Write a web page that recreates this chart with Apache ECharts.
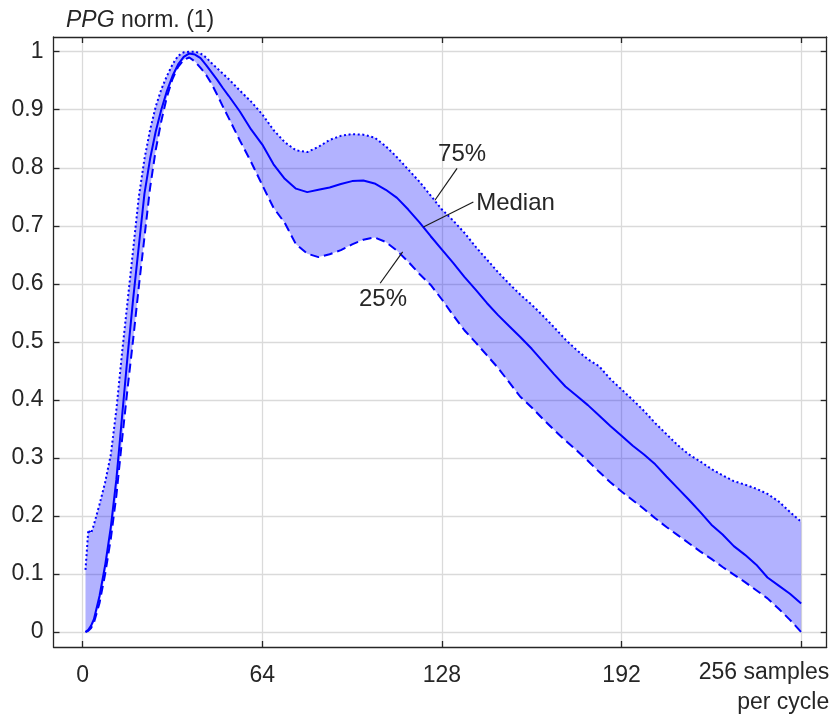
<!DOCTYPE html>
<html>
<head>
<meta charset="utf-8">
<script src="https://cdn.jsdelivr.net/npm/echarts@6/dist/echarts.min.js"></script>
<style>
html,body{margin:0;padding:0;background:#fff;}
#chart{width:835px;height:716px;}
</style>
</head>
<body>
<div id="chart"></div>
<script>
// samples per cycle
const xs = [1,2,3,4,6,8,10,12,14,16,18,20,22,24,26,28,30,32,34,36,38,40,42,44,46,48,50,52,
  56,60,64,68,72,76,80,84,88,92,96,100,104,108,112,116,120,124,128,132,136,140,144,148,152,156,
  160,164,168,172,176,180,184,188,192,196,200,204,208,212,216,220,224,228,232,236,240,244,248,252,256];
// median
const median = [0,0.004,0.011,0.022,0.062,0.115,0.18,0.263,0.37,0.476,0.575,0.665,0.755,0.815,0.862,0.9,0.932,0.958,0.978,0.991,0.997,0.995,0.989,0.977,0.964,0.951,0.937,0.924,
  0.897,0.866,0.84,0.806,0.781,0.764,0.758,0.762,0.766,0.772,0.777,0.778,0.773,0.762,0.748,0.728,0.706,0.682,0.659,0.636,0.612,0.59,0.567,0.546,0.527,0.508,
  0.488,0.466,0.444,0.423,0.407,0.391,0.373,0.355,0.338,0.321,0.306,0.289,0.268,0.248,0.228,0.207,0.185,0.168,0.148,0.133,0.116,0.094,0.08,0.066,0.049];
// 25th percentile
const p25 = [0,0.002,0.007,0.016,0.05,0.1,0.16,0.235,0.33,0.42,0.505,0.595,0.68,0.765,0.83,0.88,0.922,0.953,0.974,0.986,0.99,0.983,0.972,0.96,0.944,0.925,0.905,0.886,
  0.847,0.81,0.77,0.731,0.705,0.668,0.652,0.646,0.651,0.658,0.668,0.676,0.68,0.672,0.657,0.638,0.617,0.598,0.573,0.546,0.52,0.499,0.477,0.455,0.43,0.405,
  0.387,0.367,0.348,0.33,0.313,0.295,0.276,0.258,0.242,0.227,0.212,0.196,0.181,0.167,0.153,0.139,0.126,0.112,0.099,0.086,0.072,0.058,0.04,0.021,0];
// 75th percentile
const p75 = [0.107,0.176,0.17,0.185,0.22,0.258,0.305,0.383,0.48,0.57,0.66,0.75,0.815,0.865,0.905,0.935,0.958,0.978,0.993,0.999,1.0,1.0,0.997,0.99,0.98,0.971,0.962,0.953,
  0.933,0.914,0.892,0.865,0.844,0.83,0.827,0.836,0.848,0.855,0.858,0.857,0.852,0.837,0.818,0.797,0.776,0.752,0.728,0.709,0.688,0.664,0.642,0.62,0.6,0.581,
  0.564,0.545,0.525,0.504,0.486,0.47,0.458,0.436,0.418,0.4,0.381,0.36,0.341,0.322,0.306,0.294,0.281,0.27,0.26,0.254,0.247,0.238,0.225,0.207,0.19];

const xTicks = [0,64,128,192,256];
const xTickLabels = [0,64,128,192];
const yTicks = [0,0.1,0.2,0.3,0.4,0.5,0.6,0.7,0.8,0.9,1];

// annotation labels: [text, x, y] and leader lines
const annoText = [['75%',135.2,0.823],['Median',140.2,0.738],['25%',107,0.574]];
const annoLines = [
  [[133.4,0.799],[125.5,0.744]],
  [[139.2,0.741],[121.4,0.698]],
  [[106,0.601],[114,0.655]]
];

const FONT = "'Liberation Sans', Arial, Helvetica, sans-serif";
const TXT = '#262626';
const BLUE = '#0000ff';

const chart = echarts.init(document.getElementById('chart'), null, {renderer:'canvas'});

const axisCommon = {
  type:'value', min:-10.4, max:265.1,
  axisLine:{show:true, onZero:false, lineStyle:{color:TXT, width:1.3}},
  axisTick:{show:true, inside:true, length:6, customValues:xTicks, lineStyle:{color:TXT, width:1.3}}
};
const yCommon = {
  type:'value', min:-0.0258, max:1.0253,
  axisLine:{show:true, onZero:false, lineStyle:{color:TXT, width:1.3}},
  axisTick:{show:true, inside:true, length:6, customValues:yTicks, lineStyle:{color:TXT, width:1.3}}
};

const series = [
  {
    type:'custom', z:1, silent:true, clip:true,
    data: xs.map((x,i)=>[x,p25[i],p75[i]]),
    encode:{x:0, y:[1,2]},
    renderItem:function(params, api){
      if (params.dataIndex !== 0) return null;
      const pts = [];
      for (let i=0;i<xs.length;i++) pts.push(api.coord([xs[i], p75[i]]));
      for (let i=xs.length-1;i>=0;i--) pts.push(api.coord([xs[i], p25[i]]));
      return {type:'polygon', shape:{points:pts}, style:{fill:'rgba(0,0,255,0.3)', stroke:null}};
    }
  },
  {
    name:'75%', type:'line', z:3, symbol:'none', silent:true,
    data: xs.map((x,i)=>[x,p75[i]]),
    lineStyle:{color:BLUE, width:2, type:[2,2.6]}
  },
  {
    name:'25%', type:'line', z:3, symbol:'none', silent:true,
    data: xs.map((x,i)=>[x,p25[i]]),
    lineStyle:{color:BLUE, width:2, type:[9,5]}
  },
  {
    name:'Median', type:'line', z:4, symbol:'none', silent:true,
    data: xs.map((x,i)=>[x,median[i]]),
    lineStyle:{color:BLUE, width:2}
  }
];
annoLines.forEach(function(seg){
  series.push({type:'line', z:5, symbol:'none', silent:true, data:seg,
    lineStyle:{color:'#1a1a1a', width:1.2}});
});
series.push({
  type:'scatter', z:6, symbolSize:0, silent:true,
  itemStyle:{opacity:1},
  data: annoText.map(a=>({value:[a[1],a[2]], name:a[0],
    label:{position: a[0]==='Median' ? 'right' : 'inside', distance:0}})),
  label:{show:true, formatter:p=>p.name, color:TXT, opacity:1, fontFamily:FONT, fontSize:24}
});

chart.setOption({
  animation:false,
  backgroundColor:'#fff',
  title:{
    text:'{i|PPG} norm. (1)', left:61, top:4,
    textStyle:{fontFamily:FONT, fontSize:23, fontWeight:'normal', color:TXT,
      rich:{i:{fontFamily:FONT, fontSize:23, fontStyle:'italic', color:TXT}}}
  },
  grid:{left:53.5, right:8.3, top:37, bottom:69, containLabel:false, outerBoundsMode:'none'},
  xAxis:[
    Object.assign({}, axisCommon, {
      position:'bottom',
      splitLine:{show:true, lineStyle:{color:'#dadada', width:1.3}},
      axisLabel:{show:true, customValues:xTickLabels, margin:17, color:TXT, fontFamily:FONT, fontSize:23,
        formatter:v=>String(v)},
      name:'256 samples\nper cycle', nameLocation:'end', nameGap:2.5,
      nameTextStyle:{align:'right', verticalAlign:'top', padding:[11,0,0,0], lineHeight:30,
        color:TXT, fontFamily:FONT, fontSize:23}
    }),
    Object.assign({}, axisCommon, {
      position:'top', splitLine:{show:false}, axisLabel:{show:false}
    })
  ],
  yAxis:[
    Object.assign({}, yCommon, {
      position:'left',
      splitLine:{show:true, lineStyle:{color:'#dadada', width:1.3}},
      axisLabel:{show:true, customValues:yTicks, margin:10, color:TXT, fontFamily:FONT, fontSize:23,
        formatter:v=> (Math.abs(v)<1e-9 ? '0' : (Math.abs(v-1)<1e-9 ? '1' : v.toFixed(1)))}
    }),
    Object.assign({}, yCommon, {
      position:'right', splitLine:{show:false}, axisLabel:{show:false}
    })
  ],
  series: series
});
</script>
</body>
</html>
